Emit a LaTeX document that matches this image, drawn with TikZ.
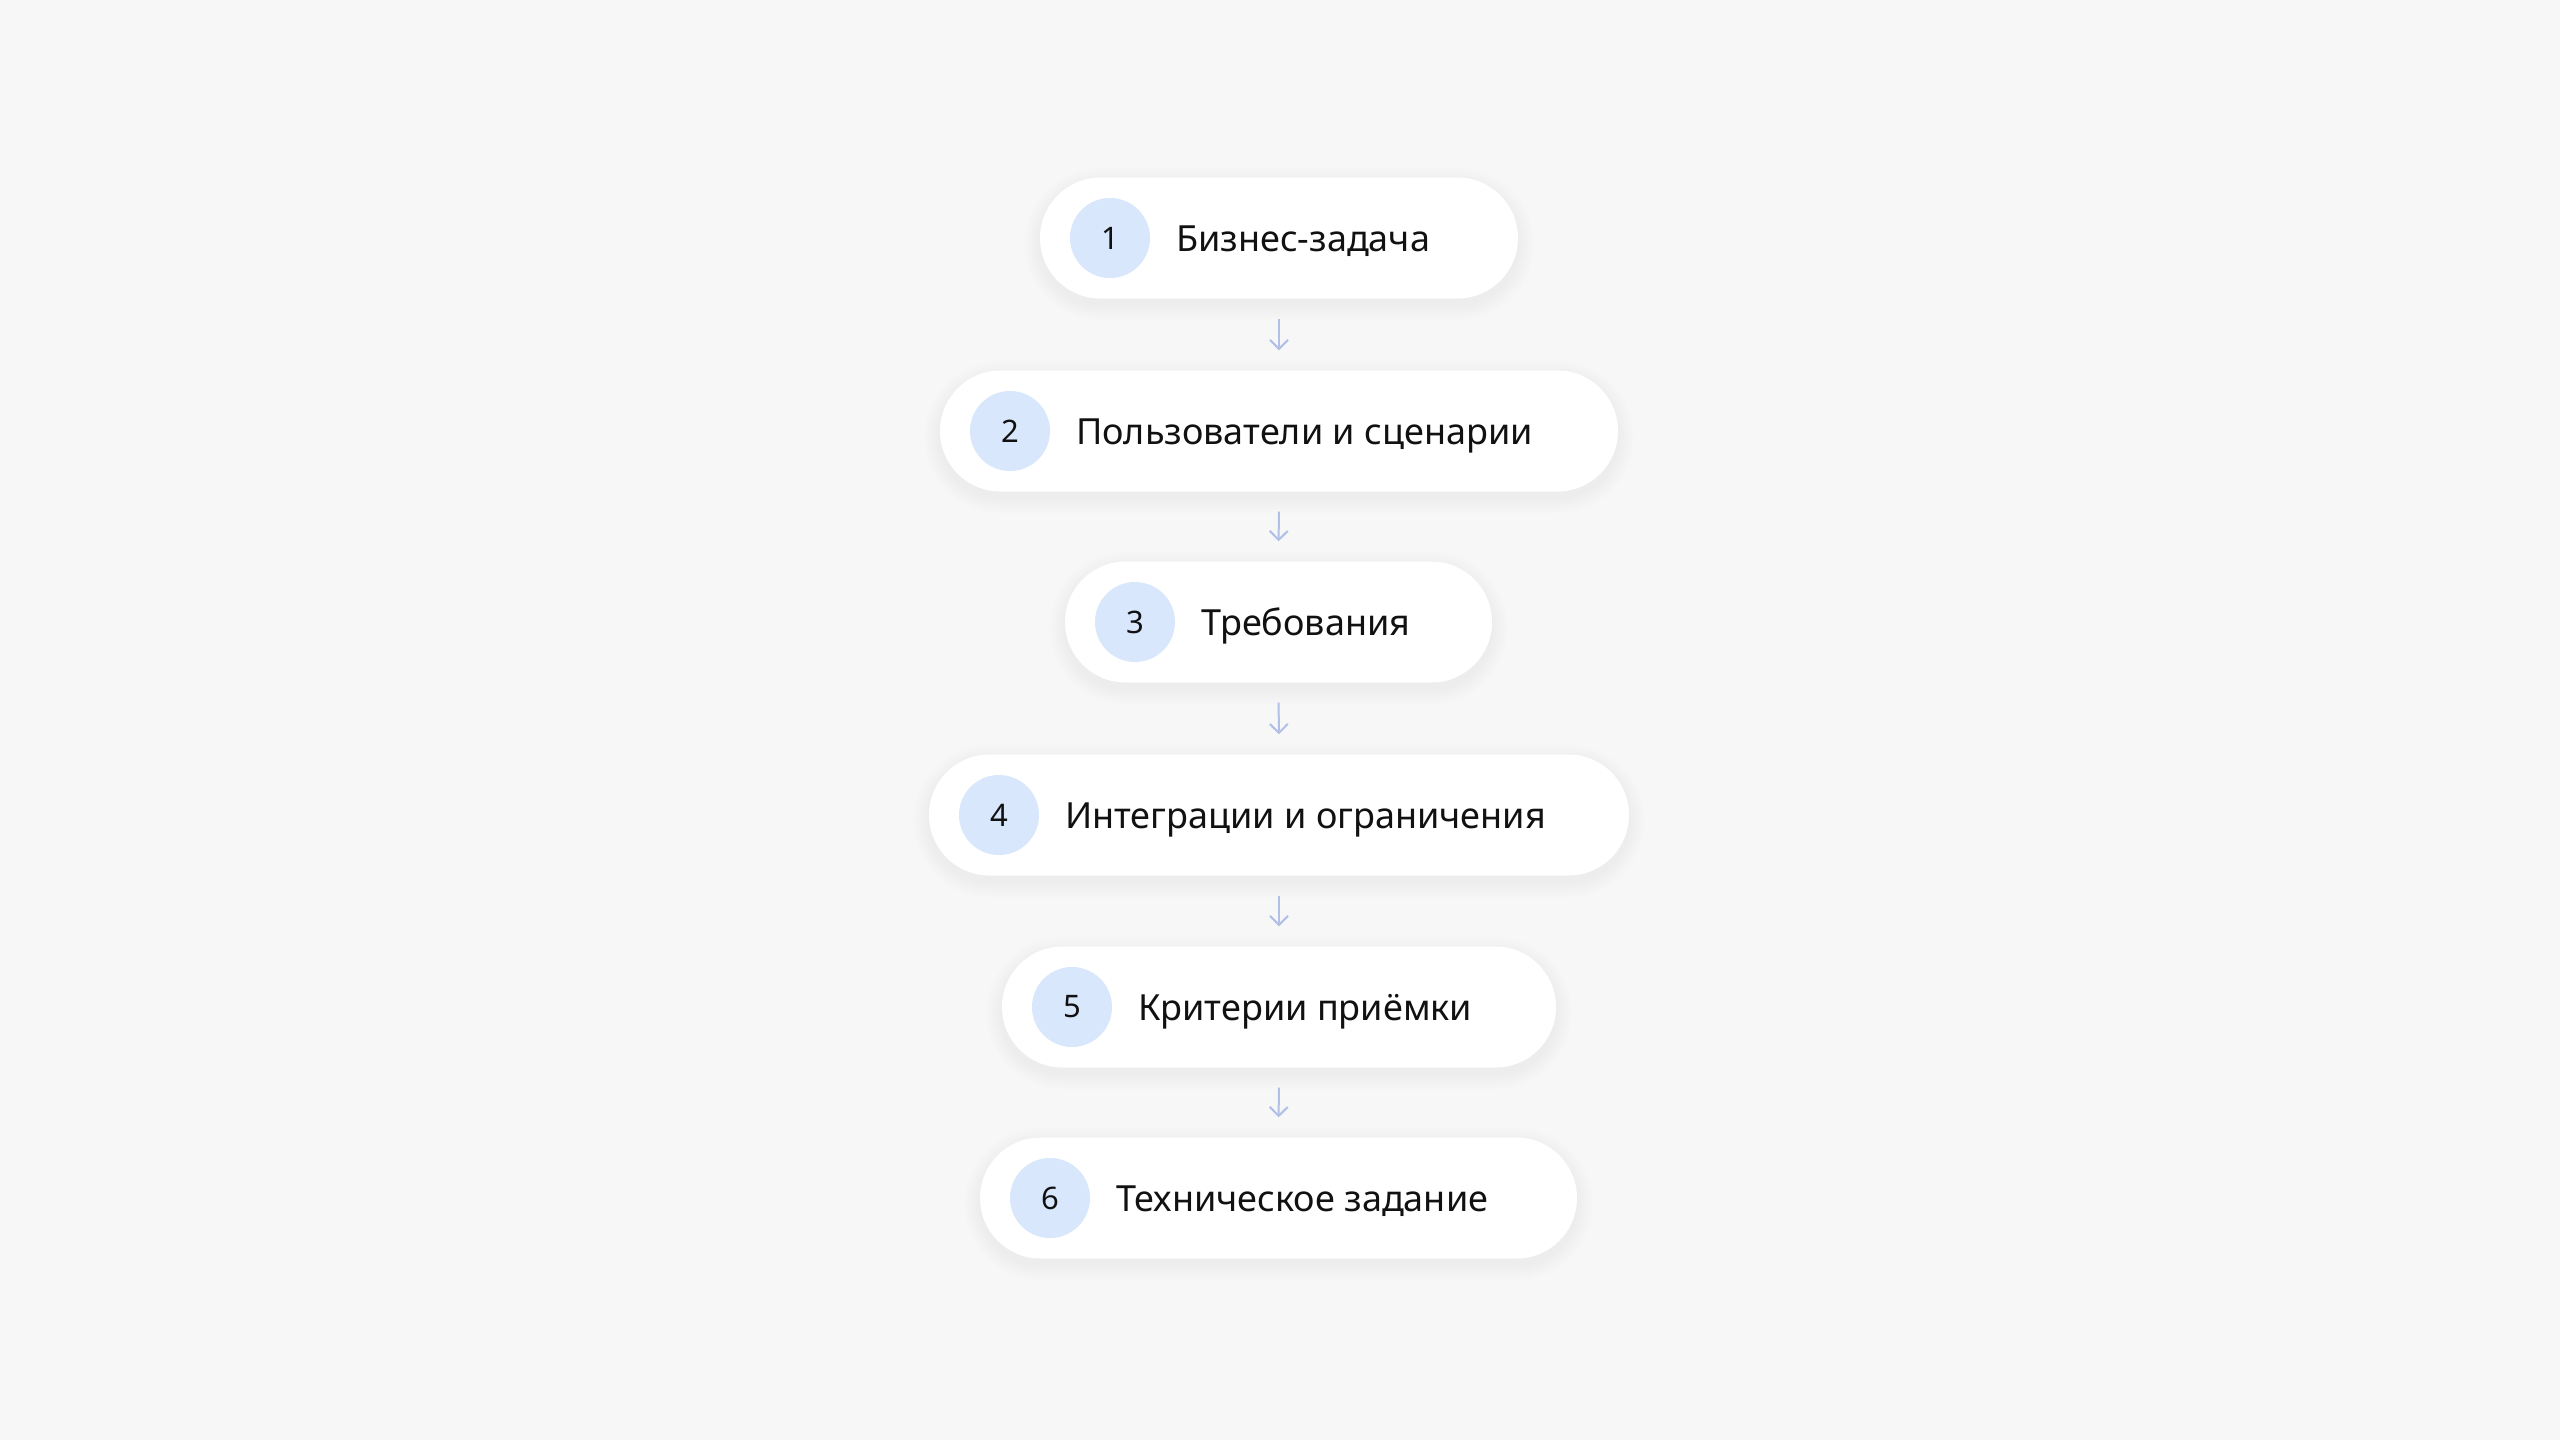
\documentclass[tikz,border=0pt]{standalone}
\usepackage{fontspec}
\setmainfont{Noto Sans}
\usetikzlibrary{arrows.meta}
\definecolor{bg}{HTML}{F7F7F7}
\definecolor{circ}{HTML}{D8E7FB}
\definecolor{arrc}{HTML}{B0C0E6}
\definecolor{ink}{HTML}{111111}
\tikzset{
  pill/.style={rectangle, rounded corners=60.5pt, fill=white, minimum height=121pt, inner sep=0pt},
  shadowlayer/.style={fill=black, opacity=0.005},
  numcirc/.style={circle, fill=circ, minimum size=80pt, inner sep=0pt, text=ink, font=\fontsize{31}{31}\selectfont},
  label/.style={anchor=base west, inner sep=0pt, text=ink, font=\fontsize{36}{36}\selectfont},
  arr/.style={draw=arrc, line width=2pt, -{Straight Barb[length=9pt,width=18pt,line width=2pt]}, shorten <=20pt, shorten >=20pt}
}
\begin{document}
\begin{tikzpicture}[x=1pt,y=-1pt]
\fill[bg] (0,0) rectangle (2560,1440);
\useasboundingbox (0,0) rectangle (2560,1440);
\foreach \i/\y/\l/\r/\t in {
  1/238/1040/1518/{Бизнес-задача},
  2/431/940/1618/{Пользователи и сценарии},
  3/622/1065/1492/{Требования},
  4/815/929/1629/{Интеграции и ограничения},
  5/1007/1002/1556/{Критерии приёмки},
  6/1198/980/1577/{Техническое задание}}{
  \foreach \k in {1,...,10}{
    \fill[shadowlayer, rounded corners={60.5+1.6*\k}]
      ({\l-1.6*\k},{\y-60.5-1.6*\k+6}) rectangle ({\r+1.6*\k},{\y+60.5+1.6*\k+6});
  }
  \node[pill, minimum width={\r-\l}] (p\i) at ({(\l+\r)/2},\y) {};
  \node[numcirc] (n\i) at ({\l+70},\y) {\i};
  \node[label] (t\i) at ({\l+136},{\y+13}) {\t};
}
\foreach \a/\b in {1/2,2/3,3/4,4/5,5/6}{
  \draw[arr] (p\a.south) -- (p\b.north);
}
\end{tikzpicture}
\end{document}
